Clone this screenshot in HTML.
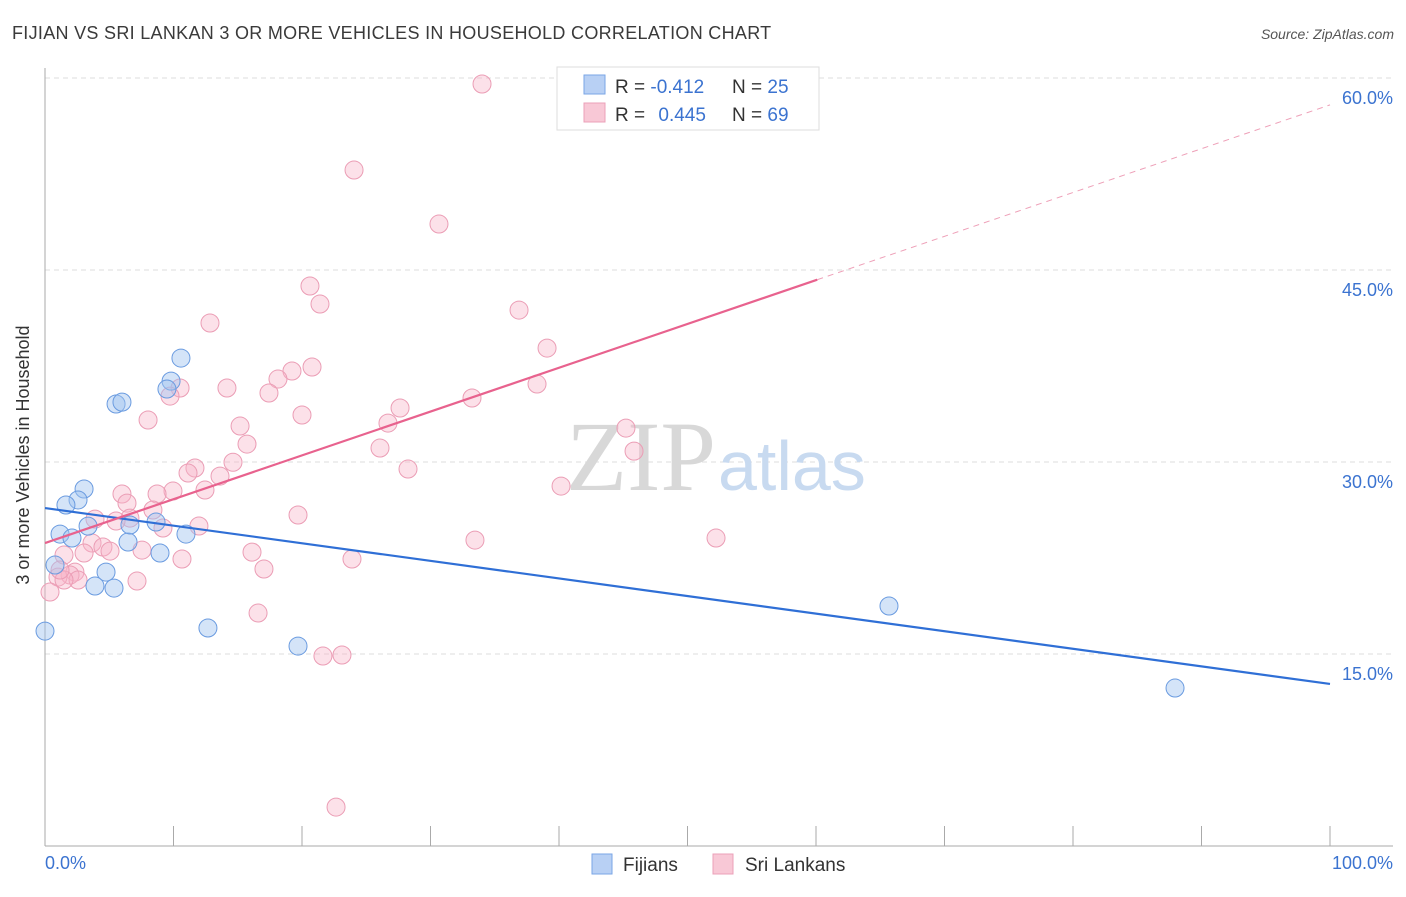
<!DOCTYPE html>
<html><head><meta charset="utf-8"><style>
body{margin:0;background:#fff;font-family:"Liberation Sans",sans-serif}
</style></head><body>
<svg width="1406" height="892" viewBox="0 0 1406 892" style="font-family:'Liberation Sans',sans-serif">
<text x="12" y="39" font-size="18" fill="#3a3a3a" letter-spacing="0.3">FIJIAN VS SRI LANKAN 3 OR MORE VEHICLES IN HOUSEHOLD CORRELATION CHART</text>
<text x="1394" y="39" font-size="14" fill="#555" font-style="italic" text-anchor="end">Source: ZipAtlas.com</text>
<g id="grid"></g>
<text x="716" y="490" font-size="100" fill="#d8d8d8" text-anchor="end" style="font-family:'Liberation Serif',serif">ZIP</text>
<text x="718" y="490" font-size="70" fill="#c8daf0">atlas</text>
<g id="pts"></g>
<g id="lines"></g>
<text x="29" y="455" font-size="18" fill="#333" text-anchor="middle" transform="rotate(-90 29 455)">3 or more Vehicles in Household</text>
<g>
<rect x="557" y="67" width="262" height="63" fill="#fff" stroke="#ddd"/>
<rect x="584" y="75" width="21" height="19" fill="#b8d0f4" stroke="#7aa6e6"/>
<rect x="584" y="103" width="21" height="19" fill="#f8c8d6" stroke="#eba0b8"/>
<text x="615" y="93" font-size="19" fill="#333">R = <tspan fill="#3b73d0">-0.412</tspan></text>
<text x="732" y="93" font-size="19" fill="#333">N = <tspan fill="#3b73d0">25</tspan></text>
<text x="615" y="121" font-size="19" fill="#333">R = <tspan fill="#3b73d0" dx="8">0.445</tspan></text>
<text x="732" y="121" font-size="19" fill="#333">N = <tspan fill="#3b73d0">69</tspan></text>
</g>
<g>
<rect x="592" y="854" width="20" height="20" fill="#b8d0f4" stroke="#7aa6e6"/>
<text x="623" y="871" font-size="19" fill="#333">Fijians</text>
<rect x="713" y="854" width="20" height="20" fill="#f8c8d6" stroke="#eba0b8"/>
<text x="745" y="871" font-size="19" fill="#333">Sri Lankans</text>
</g>
</svg>
<script>
const yTicks=[15,30,45,60];
const xTickLabels=["0.0%","100.0%"];
const fijiX=[10.58,9.81,9.49,5.53,5.99,3.04,2.57,1.63,3.35,1.17,2.10,6.46,6.61,8.64,10.97,8.95,0.78,4.75,3.89,5.37,12.68,0,19.69,65.68,87.94];
const fijiY=[38.12,36.32,35.70,34.53,34.68,27.89,27.03,26.64,24.99,24.37,24.06,23.75,25.08,25.31,24.37,22.89,21.95,21.40,20.31,20.15,17.03,16.79,15.62,18.75,12.34];
const sriX=[34.01,24.05,30.66,20.62,21.40,36.89,12.84,39.07,20.78,19.22,18.13,10.51,14.16,9.73,17.43,38.29,33.23,27.63,8.02,15.18,26.69,20.00,45.21,15.72,26.07,45.84,14.63,28.25,11.67,11.13,13.62,40.16,9.96,8.72,5.99,12.45,6.38,8.40,6.61,5.53,19.69,11.98,9.18,3.89,3.66,33.46,52.22,4.51,5.06,7.55,1.48,16.11,3.04,23.89,10.66,17.04,2.33,1.95,1.01,2.57,7.16,0.39,16.58,21.63,23.11,22.65,1.48,1.17,41.87];
const sriY=[59.53,52.81,48.59,43.75,42.34,41.87,40.86,38.90,37.42,37.11,36.48,35.78,35.78,35.15,35.39,36.09,35.00,34.22,33.28,32.81,33.04,33.67,32.65,31.40,31.09,30.85,29.98,29.45,29.53,29.14,28.90,28.12,27.73,27.50,27.50,27.81,26.79,26.25,25.62,25.39,25.86,25.00,24.84,25.54,23.67,23.90,24.06,23.36,23.04,23.12,22.73,22.96,22.89,22.42,22.42,21.64,21.40,21.17,21.01,20.78,20.70,19.84,18.20,14.84,14.92,3.04,20.78,21.56,59.22];
const fijiTrend=[26.4,12.66];
const sriTrend=[23.67,57.9];
const sriSolidEnd=60.1;
const NS="http://www.w3.org/2000/svg";
const xs=v=>45+v*12.85, ys=v=>846-v*12.8;
function mk(t,a,p){const e=document.createElementNS(NS,t);for(const k in a)e.setAttribute(k,a[k]);p.appendChild(e);return e;}
const g=document.getElementById('grid');
yTicks.forEach(t=>{
 const l=mk('line',{x1:45,x2:1393,y1:ys(t),y2:ys(t),stroke:'#ddd','stroke-dasharray':'5,4'},g);
 
 
 const tx=mk('text',{x:1393,y:ys(t)+26,'font-size':18,fill:'#3b73d0','text-anchor':'end'},g);
 tx.textContent=t.toFixed(1)+'%';
 
 
});
const ax=mk('line',{x1:45,x2:45,y1:68,y2:846,stroke:'#aaa'},g);


const bx=mk('line',{x1:45,x2:1393,y1:846,y2:846,stroke:'#aaa'},g);


for(let i=0;i<=10;i++){const t=mk('line',{x1:xs(i*10),x2:xs(i*10),y1:826,y2:846,stroke:'#aaa'},g);
 
 }
const l0=mk('text',{x:45,y:869,'font-size':18,fill:'#3b73d0'},g);l0.textContent=xTickLabels[0];


const l1=mk('text',{x:1393,y:869,'font-size':18,fill:'#3b73d0','text-anchor':'end'},g);l1.textContent=xTickLabels[1];


const p=document.getElementById('pts');
sriX.forEach((x,i)=>{const c=mk('circle',{cx:xs(x),cy:ys(sriY[i]),r:9,fill:'rgba(248,180,200,0.4)',stroke:'#eb9db5','stroke-width':1},p);
 
 });
fijiX.forEach((x,i)=>{const c=mk('circle',{cx:xs(x),cy:ys(fijiY[i]),r:9,fill:'rgba(160,196,240,0.45)',stroke:'#6a9be0','stroke-width':1},p);
 
 });
const L=document.getElementById('lines');
const fy=x=>fijiTrend[0]+(fijiTrend[1]-fijiTrend[0])*x/100, sy=x=>sriTrend[0]+(sriTrend[1]-sriTrend[0])*x/100;
const a=mk('line',{x1:xs(0),y1:ys(fy(0)),x2:xs(100),y2:ys(fy(100)),stroke:'#2f6fd6','stroke-width':2.2},L);


const b=mk('line',{x1:xs(0),y1:ys(sy(0)),x2:xs(sriSolidEnd),y2:ys(sy(sriSolidEnd)),stroke:'#e8628e','stroke-width':2.2},L);


const c=mk('line',{x1:xs(sriSolidEnd),y1:ys(sy(sriSolidEnd)),x2:xs(100),y2:ys(sy(100)),stroke:'#eea0b8','stroke-width':1,'stroke-dasharray':'6,5'},L);


</script>
</body></html>
